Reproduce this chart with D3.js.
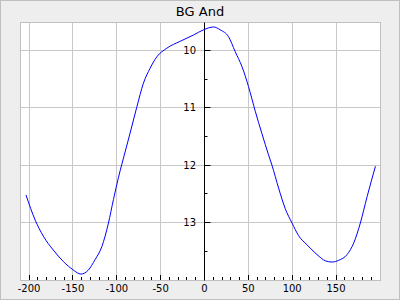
<!DOCTYPE html>
<html>
<head>
<meta charset="utf-8">
<script src="https://cdn.jsdelivr.net/npm/d3@7"></script>
<style>
  body { margin: 0; background: #fff; }
  text { font-family: "DejaVu Sans", sans-serif; }
</style>
</head>
<body>
<div class="container"></div>
<script>
const title = "BG And";
// phase-ish x values and magnitudes
const phase = [-203.5, -193, -183.7, -172.4, -161, -149.5, -141, -132.4, -124.8, -117, -109.5, -103.8, -98, -90.5,
    -84.8, -77.2, -69.6, -62, -54.3, -42.9, -27.7, -12.5, -1.1, 10.3, 17.9, 27.4, 35, 42.7, 50.2, 57.9, 65.5,
    73, 76.9, 84.5, 92.1, 99.8, 107.3, 116.9, 128.3, 138, 145.4, 153, 162.6, 170.1, 177.7, 185.4, 194.9];
const mag = [12.52, 12.96, 13.24, 13.48, 13.68, 13.83, 13.90, 13.83, 13.65, 13.42, 13.01, 12.60, 12.21, 11.77,
    11.44, 10.99, 10.57, 10.31, 10.11, 9.96, 9.84, 9.73, 9.64, 9.59, 9.64, 9.76, 10.02, 10.28, 10.63, 11.06, 11.45,
    11.82, 12.00, 12.40, 12.76, 13.01, 13.23, 13.39, 13.56, 13.67, 13.69, 13.66, 13.56, 13.36, 13.01, 12.55, 12.02];
const xTicks = [-200, -150, -100, -50, 0, 50, 100, 150];
const xMinor = d3.range(-200, 191, 10);
const yTicks = [10, 11, 12, 13];
const yMinor = [10.5, 11.5, 12.5, 13.5];

const width = 400, height = 300;
const plot = { left: 20.5, right: 380.5, top: 22.5, bottom: 280.5 };

const svg = d3.select(".container")
    .append("svg")
    .attr("width", width)
    .attr("height", height)

svg.append("rect")
    .attr("x", 0.5).attr("y", 0.5)
    .attr("width", width - 1).attr("height", height - 1)
    .attr("fill", "#eeeeee")
    .attr("stroke", "#c0c0c0")

let x = d3.scaleLinear().domain([-210, 200]).range([20.3, 379.9])
let y = d3.scaleLinear().domain([9.5, 14]).range([21.8, 279.8])
const px = v => Math.floor(x(v)) + 0.5
const py = v => Math.floor(y(v)) + 0.5

svg.append("rect")
    .attr("x", plot.left).attr("y", plot.top)
    .attr("width", plot.right - plot.left).attr("height", plot.bottom - plot.top)
    .attr("fill", "#fff")

// grid
svg.append("g")
    .selectAll("line")
    .data(xTicks.filter(d => d != 0))
    .enter()
    .append("line")
    .attr("x1", d => px(d)).attr("x2", d => px(d))
    .attr("y1", plot.top).attr("y2", plot.bottom)
    .attr("stroke", "#c8c8c8")

svg.append("g")
    .selectAll("line")
    .data(yTicks)
    .enter()
    .append("line")
    .attr("y1", d => py(d)).attr("y2", d => py(d))
    .attr("x1", plot.left).attr("x2", plot.right)
    .attr("stroke", "#c8c8c8")

svg.append("rect")
    .attr("x", plot.left).attr("y", plot.top)
    .attr("width", plot.right - plot.left).attr("height", plot.bottom - plot.top)
    .attr("fill", "none")
    .attr("stroke", "#c0c0c0")

// x ticks, pointing up from the bottom edge
svg.append("g")
    .selectAll("line")
    .data(xMinor)
    .enter()
    .append("line")
    .attr("x1", d => px(d)).attr("x2", d => px(d))
    .attr("y1", plot.bottom - 0.5)
    .attr("y2", d => plot.bottom - (d % 50 == 0 ? 5.5 : 3.5))
    .attr("stroke", "#000")

svg.append("g")
    .selectAll("text")
    .data(xTicks)
    .enter()
    .append("text")
    .attr("x", d => x(d))
    .attr("y", 292)
    .attr("text-anchor", "middle")
    .attr("font-size", 10)
    .text(d => d)

// y axis sits on x = 0
const x0 = px(0)
svg.append("line")
    .attr("x1", x0).attr("x2", x0)
    .attr("y1", plot.top).attr("y2", plot.bottom)
    .attr("stroke", "#000")

svg.append("g")
    .selectAll("line")
    .data(yTicks.concat(yMinor))
    .enter()
    .append("line")
    .attr("x1", x0).attr("x2", d => x0 + (Number.isInteger(d) ? 6 : 3))
    .attr("y1", d => py(d)).attr("y2", d => py(d))
    .attr("stroke", "#000")

svg.append("g")
    .selectAll("text")
    .data(yTicks)
    .enter()
    .append("text")
    .attr("x", 196)
    .attr("y", d => y(d) + 3.5)
    .attr("text-anchor", "end")
    .attr("font-size", 10)
    .text(d => d)

// light curve
const points = phase.map((p, i) => [p, mag[i]])
svg.append("path")
    .datum(points)
    .attr("fill", "none")
    .attr("stroke", "#0000ff")
    .attr("stroke-width", 1)
    .attr("d", d3.line().x(d => x(d[0])).y(d => y(d[1])).curve(d3.curveMonotoneX))

svg.append("text")
    .attr("x", 200)
    .attr("y", 16)
    .attr("text-anchor", "middle")
    .attr("font-size", 13)
    .text(title)
</script>
</body>
</html>
